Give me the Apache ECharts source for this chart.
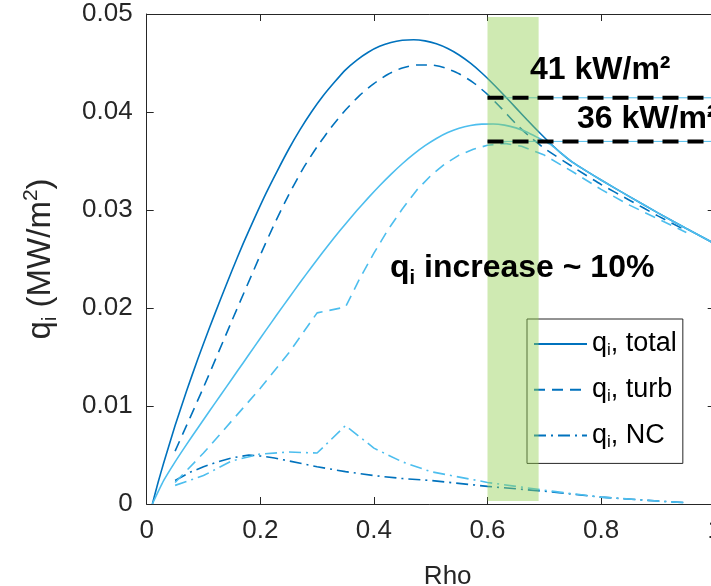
<!DOCTYPE html>
<html>
<head>
<meta charset="utf-8">
<script src="https://cdn.jsdelivr.net/npm/echarts@6/dist/echarts.min.js"></script>
<style>
html,body{margin:0;padding:0;background:#fff;}
#chart{width:711px;height:586px;}
</style>
</head>
<body>
<div id="chart"></div>
<script>
// ---- data ----
const xTicks = [0, 0.2, 0.4, 0.6, 0.8, 1];
const yTicks = [0, 0.01, 0.02, 0.03, 0.04, 0.05];

const rhoTotalDark = [0.01,0.02,0.03,0.05,0.07,0.09,0.11,0.13,0.15,0.17,0.19,0.21,0.23,0.25,0.27,0.29,0.31,0.33,0.35,0.37,0.39,0.41,0.43,0.45,0.47,0.49,0.51,0.53,0.55,0.57,0.59,0.61,0.63,0.65,0.67,0.69,0.71,0.73,0.75,0.8,0.85,0.9,0.95,1.0];
const qTotalDark   = [0,0.0022,0.0042,0.0080,0.0115,0.0148,0.0179,0.0209,0.0238,0.0266,0.0292,0.0317,0.0340,0.0362,0.0382,0.0400,0.0416,0.0430,0.0443,0.0453,0.0461,0.0467,0.0471,0.04732,0.04738,0.04726,0.04696,0.04648,0.04582,0.04498,0.04398,0.04286,0.04166,0.04042,0.03918,0.03798,0.03684,0.03578,0.03486,0.03306,0.03136,0.02971,0.02811,0.02656];

const rhoTotalLight = [0.01,0.03,0.05,0.07,0.09,0.11,0.13,0.15,0.17,0.19,0.21,0.23,0.25,0.27,0.29,0.31,0.33,0.35,0.37,0.39,0.41,0.43,0.45,0.47,0.49,0.51,0.53,0.55,0.57,0.59,0.61,0.63,0.65,0.67,0.69,0.71,0.73,0.75,0.8,0.85,0.9,0.95,1.0];
const qTotalLight   = [0,0.0024,0.0043,0.00606,0.00776,0.00944,0.0111,0.01276,0.01442,0.01608,0.01774,0.01938,0.0210,0.0226,0.02416,0.02568,0.02716,0.02858,0.02994,0.03124,0.03248,0.03364,0.03472,0.0357,0.03656,0.0373,0.0379,0.03834,0.03862,0.03876,0.03878,0.03866,0.03838,0.03794,0.03734,0.03672,0.03578,0.03486,0.03306,0.03136,0.02971,0.02811,0.02656];

const rhoTurbDark = [0.05,0.1,0.15,0.2,0.225,0.25,0.275,0.3,0.325,0.35,0.375,0.4,0.425,0.45,0.475,0.5,0.525,0.55,0.575,0.6,0.625,0.65,0.675,0.7,0.75,0.8,0.85,0.9,0.95];
const qTurbDark   = [0.0054,0.0119,0.0187,0.0254,0.0286,0.03155,0.0342,0.03645,0.03845,0.0402,0.0417,0.0429,0.04385,0.0445,0.0448,0.0448,0.0445,0.0439,0.0430,0.0418,0.04035,0.0388,0.03745,0.0363,0.0344,0.0326,0.0310,0.0294,0.0279];

const rhoTurbLight = [0.05,0.1,0.15,0.2,0.25,0.3,0.35,0.375,0.4,0.425,0.45,0.475,0.5,0.525,0.55,0.575,0.6,0.63,0.66,0.7,0.75,0.8,0.85,0.9,0.95];
const qTurbLight   = [0.0022,0.0052,0.0085,0.0118,0.0154,0.0195,0.0201,0.0230,0.0256,0.0280,0.0301,0.0320,0.0335,0.0347,0.0356,0.0362,0.0366,0.0368,0.0365,0.0356,0.0339,0.0321,0.0305,0.0291,0.0277];

const rhoNCDark = [0.05,0.075,0.1,0.125,0.15,0.18,0.2,0.225,0.25,0.3,0.35,0.4,0.45,0.5,0.6,0.7,0.8,0.9,0.95];
const qNCDark   = [0.0024,0.0032,0.0038,0.0043,0.0047,0.0050,0.0049,0.0047,0.0044,0.0038,0.0033,0.0029,0.0026,0.0024,0.0018,0.0013,0.0007,0.0003,0.00013];

const rhoNCLight = [0.05,0.1,0.15,0.2,0.25,0.3,0.35,0.4,0.45,0.5,0.6,0.7,0.8,0.9,0.95];
const qNCLight   = [0.0019,0.0029,0.0044,0.0051,0.0053,0.0052,0.0080,0.0057,0.0043,0.0033,0.0022,0.0014,0.0007,0.0003,0.00013];

// highlighted band [rhoStart, rhoEnd, qBottom, qTop]
const bandRange = [0.6, 0.69, 0.0003, 0.0497];
// reference levels (MW/m^2) drawn from rho 0.6 to 1
const refLevelRho = [0.6, 1.0];
const refLevels = [0.04145, 0.0370];

const legendNames = ['total', 'turb', 'NC'];

// ---- styling ----
const DARK = '#0072BD', LIGHT = '#4DBEEE', AX = '#262626';
const FONT = '"Liberation Sans", Arial, sans-serif';
const LW = 1.6;
const DASH = [11, 7];
const DASHDOT = [12, 5, 2, 5];

function pts(xs, ys) { return xs.map((x, i) => [x, ys[i]]); }

function curve(name, xs, ys, color, type, smooth) {
  return {
    name, type: 'line', data: pts(xs, ys), symbol: 'none', z: 2,
    smooth: smooth || false,
    lineStyle: { color, width: LW, type }, itemStyle: { color },
    emphasis: { disabled: true }, silent: true
  };
}

const series = [
  curve('total', rhoTotalDark, qTotalDark, DARK, 'solid', 0.2),
  curve('turb', rhoTurbDark, qTurbDark, DARK, DASH, 0.2),
  curve('NC', rhoNCDark, qNCDark, DARK, DASHDOT, false),
  curve('total2', rhoTotalLight, qTotalLight, LIGHT, 'solid', 0.2),
  curve('turb2', rhoTurbLight, qTurbLight, LIGHT, DASH, false),
  curve('NC2', rhoNCLight, qNCLight, LIGHT, DASHDOT, false),
];

refLevels.forEach((lv, i) => {
  series.push({
    name: 'ref' + i, type: 'line', symbol: 'none', z: 3, silent: true,
    data: refLevelRho.map(r => [r, lv]),
    lineStyle: { color: LIGHT, width: 1 }
  });
  series.push({
    name: 'refd' + i, type: 'line', symbol: 'none', z: 6, silent: true,
    data: refLevelRho.map(r => [r, lv]),
    lineStyle: { color: '#000', width: 4, type: [16, 9] }
  });
});

series.push({
  name: 'band', type: 'custom', z: 5, silent: true,
  data: [bandRange],
  encode: { x: [0, 1], y: [2, 3] },
  renderItem: function (params, api) {
    const p1 = api.coord([api.value(0), api.value(3)]);
    const p2 = api.coord([api.value(1), api.value(2)]);
    return {
      type: 'rect',
      shape: { x: p1[0], y: p1[1], width: p2[0] - p1[0], height: p2[1] - p1[1] },
      style: { fill: 'rgba(146,208,80,0.44)' }
    };
  }
});

const chart = echarts.init(document.getElementById('chart'), null, { renderer: 'canvas' });

const axisCommon = {
  axisLine: { show: true, onZero: false, lineStyle: { color: AX, width: 1 } },
  axisTick: { show: true, inside: true, length: 7, lineStyle: { color: AX, width: 1 } },
  splitLine: { show: false }
};

chart.setOption({
  animation: false,
  backgroundColor: '#fff',
  grid: { left: 146.7, top: 14, right: -3.7, bottom: 82, containLabel: false, outerBoundsMode: 'none' },
  xAxis: [
    Object.assign({
      type: 'value', min: xTicks[0], max: xTicks[xTicks.length - 1], interval: 0.2, position: 'bottom',
      axisLabel: { fontSize: 26, color: AX, fontFamily: FONT, margin: 14,
        formatter: v => v === 0 ? '0' : String(+v.toFixed(1)) },
      name: 'Rho', nameLocation: 'middle', nameGap: 60,
      nameTextStyle: { fontSize: 26, color: AX, fontFamily: FONT, padding: [0, 0, 0, 34] }
    }, axisCommon),
    Object.assign({
      type: 'value', min: xTicks[0], max: xTicks[xTicks.length - 1], interval: 0.2, position: 'top',
      axisLabel: { show: false }
    }, axisCommon)
  ],
  yAxis: [
    Object.assign({
      type: 'value', min: yTicks[0], max: yTicks[yTicks.length - 1], interval: 0.01, position: 'left',
      axisLabel: { fontSize: 26, color: AX, fontFamily: FONT, margin: 14,
        formatter: v => v === 0 ? '0' : v.toFixed(2) },
      name: '{a|q}{s|i}{a| (MW/m}{p|2}{a|)}', nameLocation: 'middle', nameGap: 86, nameRotate: 90,
      nameTextStyle: {
        color: AX, fontFamily: FONT,
        rich: {
          a: { fontSize: 33, lineHeight: 40, color: AX, fontFamily: FONT },
          s: { fontSize: 21, lineHeight: 10, verticalAlign: 'bottom', color: AX, fontFamily: FONT },
          p: { fontSize: 21, lineHeight: 24, verticalAlign: 'top', color: AX, fontFamily: FONT }
        }
      }
    }, axisCommon),
    Object.assign({
      type: 'value', min: yTicks[0], max: yTicks[yTicks.length - 1], interval: 0.01, position: 'right',
      axisLabel: { show: false }
    }, axisCommon)
  ],
  legend: {
    data: legendNames,
    orient: 'vertical', left: 527, top: 319,
    padding: [11.5, 6, 13, 6], itemGap: 17.2,
    itemWidth: 53, itemHeight: 30,
    backgroundColor: '#fff', borderColor: AX, borderWidth: 1, borderRadius: 0,
    selectedMode: false, z: 4,
    itemStyle: { opacity: 0 },
    formatter: n => '{q|q}{s|i}{t|, ' + n + '}',
    textStyle: {
      fontFamily: FONT, color: '#000',
      rich: {
        q: { fontSize: 27, lineHeight: 30, fontFamily: FONT, color: '#000' },
        t: { fontSize: 27, lineHeight: 30, fontFamily: FONT, color: '#000' },
        s: { fontSize: 17, lineHeight: 8, verticalAlign: 'bottom', fontFamily: FONT, color: '#000' }
      }
    }
  },
  graphic: [
    { type: 'text', x: 530, y: 70.5, z: 100,
      style: { text: '41 kW/m\u00B2', fontSize: 32, fontWeight: 'bold', fontFamily: FONT, fill: '#000', verticalAlign: 'middle' } },
    { type: 'text', x: 577, y: 119, z: 100,
      style: { text: '36 kW/m\u00B2', fontSize: 32, fontWeight: 'bold', fontFamily: FONT, fill: '#000', verticalAlign: 'middle' } },
    { type: 'text', x: 390, y: 268, z: 100,
      style: {
        text: '{b|q}{s|i}{b| increase ~ 10%}', fill: '#000', verticalAlign: 'middle',
        rich: {
          b: { fontSize: 32, fontWeight: 'bold', fontFamily: FONT, lineHeight: 40, fill: '#000' },
          s: { fontSize: 20, fontWeight: 'bold', fontFamily: FONT, lineHeight: 22, verticalAlign: 'bottom', fill: '#000' }
        }
      } }
  ],
  series: series
});
</script>
</body>
</html>
